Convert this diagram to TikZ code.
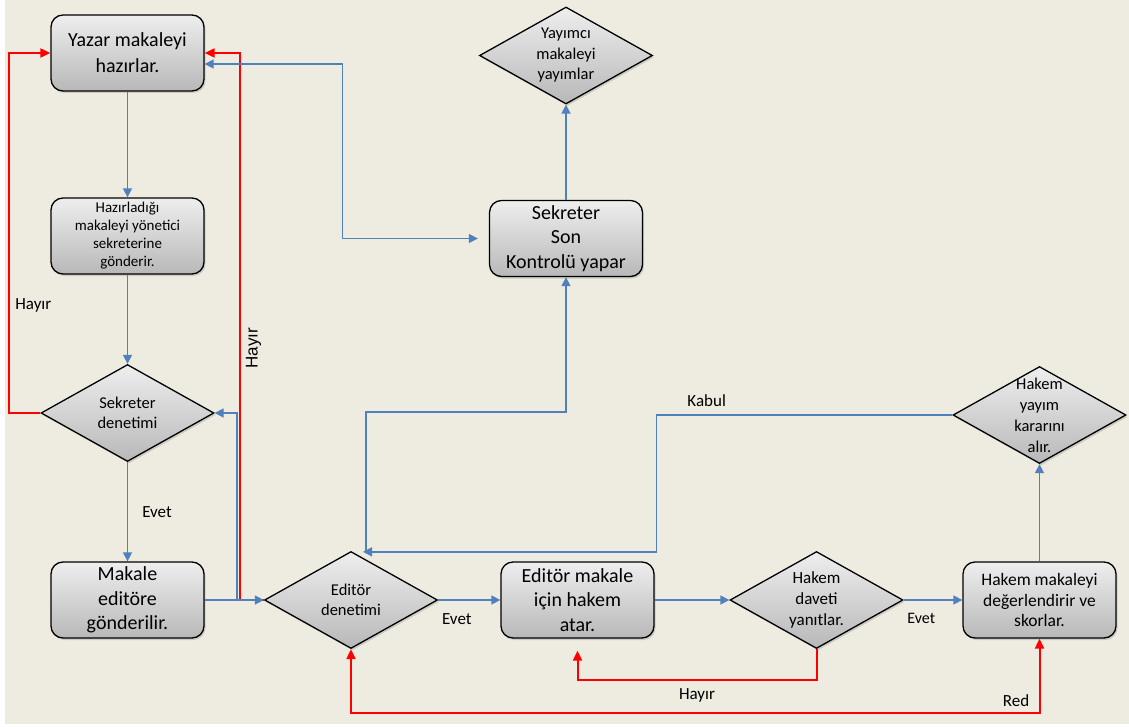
\documentclass[tikz,border=0pt]{standalone}
\usepackage{fontspec}
\setmainfont{Carlito}
\newfontfamily\sidefont{Liberation Sans}
\usepackage{xcolor}
\usepackage{tikz}
\usetikzlibrary{arrows.meta,positioning}
\usetikzlibrary{shapes.geometric,shadows}
\definecolor{paper}{RGB}{238,235,225}
\definecolor{flowblue}{RGB}{79,129,189}
\definecolor{flowred}{RGB}{255,0,0}
\definecolor{boxtop}{RGB}{238,238,238}
\definecolor{boxbottom}{RGB}{184,184,184}
\newcommand{\fsz}[2]{\fontsize{#1}{#2}\selectfont}

\begin{document}
\begin{tikzpicture}[
                    x=1pt, y=-1pt, on grid,
                    every node/.style={text=black},
                    task/.style={draw, rectangle, rounded corners=12pt, line width=1.3pt, top color=boxtop, bottom color=boxbottom, minimum width=153pt, minimum height=76pt, align=center, inner sep=2pt, drop shadow={shadow xshift=1.5pt, shadow yshift=-2pt, opacity=0.3}},
                    check/.style={draw, diamond, line width=1.3pt, top color=boxtop, bottom color=boxbottom, minimum width=173pt, minimum height=97pt, align=center, inner sep=-14pt, drop shadow={shadow xshift=1.5pt, shadow yshift=-2pt, opacity=0.3}},
                    flow/.style={flowblue, line width=1.5pt, -{Triangle[length=9pt, width=9pt]}},
                    back/.style={flowred, line width=2pt, -{Triangle[length=10pt, width=9pt]}},
                    note/.style={font=\fsz{17}{20}, inner sep=1pt}
                ]
                    % Background
                    \fill[white] (0,0) rectangle (1129,727);
                    \fill[paper] (5,0) rectangle (1129,724);
                    \useasboundingbox (0,0) rectangle (1129,727);

                    % Steps
                    \node[task, font=\fsz{20}{26}] (Yazar) at (127.5,53) {Yazar makaleyi\\hazırlar.};
                    \node[task, font=\fsz{15}{18}, below=183pt of Yazar] (Gonder) {Hazırladığı\\makaleyi yönetici\\sekreterine\\gönderir.};
                    \node[check, font=\fsz{16.5}{20}, below=177pt of Gonder] (SekDen) {Sekreter\\denetimi};
                    \node[task, font=\fsz{20}{24.5}, below=187pt of SekDen] (Makale) {Makale\\editöre\\gönderilir.};
                    \node[check, font=\fsz{16.5}{20}, right=223.5pt of Makale] (EdDen) {Editör\\denetimi};
                    \node[task, font=\fsz{20}{24.5}, right=226.5pt of EdDen] (Atar) {Editör makale\\için hakem\\atar.};
                    \node[check, font=\fsz{17}{21}, right=239pt of Atar] (Davet) {Hakem\\daveti\\yanıtlar.};
                    \node[task, font=\fsz{17.5}{20.5}, right=223pt of Davet] (Skor) {Hakem makaleyi\\değerlendirir ve\\skorlar.};
                    \node[check, font=\fsz{16.5}{21}, above=185pt of Skor] (Karar) {Hakem\\yayım\\kararını\\alır.};
                    \node[task, font=\fsz{20}{24.5}] (Son) at (566,238.5) {Sekreter\\Son\\Kontrolü yapar};
                    \node[check, font=\fsz{16.5}{20.5}, above=183pt of Son] (Yayin) {Yayımcı\\makaleyi\\yayımlar};

                    % Rejections
                    \draw[back] (SekDen.west) -- ++(-31,0) |- node[note, pos=0.15, right=4pt] {Hayır} (Yazar.west);
                    \draw[back] (EdDen.west) -- ++(-24,0) |- node[pos=0.23, rotate=90, anchor=north, inner sep=5pt, font=\sidefont\fsz{17}{20}] {Hayır} (Yazar.east);
                    \draw[back] (Davet.south) -- ++(0,31) -| node[note, pos=0.25, below=6pt] {Hayır} ([yshift=-12pt]Atar.south);
                    \draw[back, {Triangle[length=10pt, width=9pt]}-{Triangle[length=10pt, width=9pt]}] (EdDen.south) -- ++(0,64) -| node[note, pos=0.483, above=5pt] {Red} (Skor.south);

                    % Main flow
                    \draw[flow] (Yazar) -- (Gonder);
                    \draw[flow] (Gonder) -- (SekDen);
                    \draw[flow] (SekDen) -- node[note, midway, right=13pt] {Evet} (Makale);
                    \draw[flow] (Makale) -- (EdDen);
                    \draw[flow] (EdDen) -- node[note, pos=0.3, below=12pt] {Evet} (Atar);
                    \draw[flow] (Atar) -- (Davet);
                    \draw[flow] (Davet) -- node[note, pos=0.3, below=11pt, font=\fsz{16}{19}] {Evet} (Skor);
                    \draw[flow] (Skor) -- (Karar);
                    \draw[flow] (Karar.west) -- node[note, pos=0.83, above=7pt] {Kabul} ++(-296,0) |- ([xshift=12pt, yshift=-1pt]EdDen.north);
                    \draw[flow] ([xshift=-27pt]EdDen.west) |- (SekDen.east);
                    \draw[flow] ([xshift=15pt]EdDen.north) -- ++(0,-139) -| (Son.south);
                    \draw[flow, {Triangle[length=9pt, width=9pt]}-{Triangle[length=9pt, width=9pt]}, shorten >=11pt] ([yshift=-11pt]Yazar.east) -- ++(138,0) |- (Son.west);
                    \draw[flow] (Son) -- (Yayin);
                \end{tikzpicture}
\end{document}
